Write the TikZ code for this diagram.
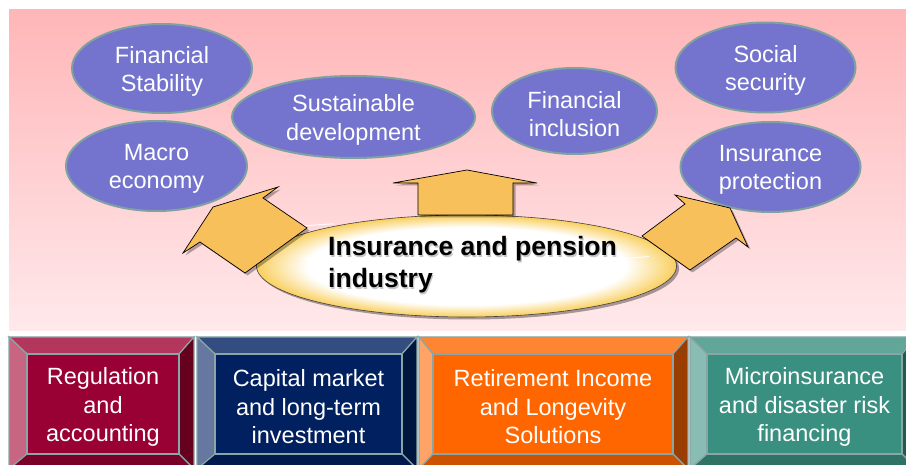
\documentclass[tikz,border=0pt]{standalone}
\usepackage{fontspec}
\setmainfont{Liberation Sans}
\usetikzlibrary{shapes.geometric}
\definecolor{pinktop}{HTML}{FFB6B8}
\definecolor{pinkbot}{HTML}{FFE9EB}
\definecolor{ellblue}{HTML}{7474CE}
\definecolor{ellrim}{HTML}{7FA2A0}
\definecolor{arrowfill}{HTML}{F8C05A}
\definecolor{coreyel}{HTML}{F9CF5E}
\definecolor{edgecol}{HTML}{8AA5A5}
% box 1
\definecolor{regface}{HTML}{990033}
\definecolor{regtop}{HTML}{B3375C}
\definecolor{regleft}{HTML}{C76683}
\definecolor{regright}{HTML}{66001F}
\definecolor{regbot}{HTML}{7A0029}
% box 2
\definecolor{capface}{HTML}{002060}
\definecolor{captop}{HTML}{334D80}
\definecolor{capleft}{HTML}{6678A0}
\definecolor{capright}{HTML}{00163F}
\definecolor{capbot}{HTML}{001A4D}
% box 3
\definecolor{retface}{HTML}{FF6600}
\definecolor{rettop}{HTML}{FF8533}
\definecolor{retleft}{HTML}{FFA366}
\definecolor{retright}{HTML}{993D00}
\definecolor{retbot}{HTML}{CC5200}
% box 4
\definecolor{micface}{HTML}{3A9080}
\definecolor{mictop}{HTML}{61A699}
\definecolor{micleft}{HTML}{89BCB3}
\definecolor{micright}{HTML}{235A50}
\definecolor{micbot}{HTML}{2E7366}
\pgfdeclareradialshading{coreshade}{\pgfpoint{0bp}{0bp}}{color(0bp)=(white); color(19bp)=(white); color(25bp)=(coreyel); color(50bp)=(coreyel)}
\tikzset{
  ell/.style={ellipse, fill=ellblue, draw=ellrim, line width=2pt, inner sep=0pt},
  elltext/.style={text=white, align=center, inner sep=0pt, font=\fontsize{23.5}{28.5}\selectfont},
  boxtext/.style={text=white, align=center, inner sep=0pt, font=\fontsize{23.5}{28.5}\selectfont},
  bevel/.style={draw=edgecol, line width=1.2pt, line join=miter},
  arrowshape/.style={fill=arrowfill, draw=black, line width=0.7pt, line join=miter},
  arrowshadow/.style={fill=black, opacity=0.3},
  coretext/.style={anchor=base west, inner sep=0pt, font=\bfseries\fontsize{26.5}{32}\selectfont}
}
\newcommand\bevelbox[6]{%
  \filldraw[bevel, fill=#4top] (#2,337) -- (#3,337) -- ({#3-15},354) -- ({#2+#5},354) -- cycle;
  \filldraw[bevel, fill=#4left] (#2,337) -- ({#2+#5},354) -- ({#2+#5},454) -- (#2,469) -- cycle;
  \filldraw[bevel, fill=#4right] (#3,337) -- (#3,469) -- ({#3-15},454) -- ({#3-15},354) -- cycle;
  \filldraw[bevel, fill=#4bot] (#2,469) -- ({#2+#5},454) -- ({#3-15},454) -- (#3,469) -- cycle;
  \filldraw[bevel, fill=#4face] ({#2+#5},354) rectangle ({#3-15},454);
  \node[boxtext] (#1) at ({(#2+#5+#3-15)/2},407) {#6};
}
\newcommand\blueell[6]{% name, x, y, width, height, text
  \node[ell, minimum width=#4pt, minimum height=#5pt] (#1) at (#2,#3) {};
  \node[elltext] (#1text) at (#2,#3+3) {#6};
}
\begin{document}
\begin{tikzpicture}[x=1pt,y=-1pt]
\useasboundingbox (0,0) rectangle (906,465);
\clip (0,0) rectangle (906,465);
\fill[white] (0,0) rectangle (906,465);
% pink background
\shade[top color=pinktop, bottom color=pinkbot] (9,10) rectangle (906,331);

% outer ellipses
\blueell{stab}{162}{68.5}{180}{89}{Financial\\Stability}
\blueell{macro}{156.5}{166}{181}{90}{Macro\\economy}
\blueell{sust}{353.5}{117}{243}{82}{Sustainable\\development}
\blueell{incl}{574.5}{111}{165}{86}{Financial\\inclusion}
\blueell{soc}{765.5}{67.5}{180}{90}{Social\\security}
\blueell{prot}{770.5}{167}{180}{90}{Insurance\\protection}

% central ellipse
\fill[black, opacity=0.35] (469,268.5) ellipse [x radius=210pt, y radius=51pt];
\shade[shading=coreshade, draw=black!75, line width=0.6pt] (466.5,266) ellipse [x radius=210pt, y radius=51pt];
\node[draw=none, inner sep=0pt, minimum width=420pt, minimum height=102pt, ellipse] (core) at (466.5,266) {};
% faint white ring
\draw[white, line width=1pt, opacity=0.9] (468,242) ++(226:240pt and 22pt) arc [start angle=226, end angle=319, x radius=240pt, y radius=22pt];
\draw[white, line width=1pt, opacity=0.9] (468,242) ++(124:240pt and 22pt) arc [start angle=124, end angle=142, x radius=240pt, y radius=22pt];

% arrows (shadows first)
\begin{scope}[shift={(2.5,2.5)}]
  \fill[arrowshadow] (183,253) -- (213,207) -- (278,187) -- (263,198) -- (307,228) -- (245,273) -- (200,242) -- cycle;
  \fill[arrowshadow] (467,170) -- (537,183) -- (513,183) -- (513,215) -- (418,215) -- (418,183) -- (393,183) -- cycle;
  \fill[arrowshadow] (675,195) -- (730,208) -- (748,247) -- (736,238) -- (690,270) -- (642,236) -- (685,204) -- cycle;
\end{scope}
\filldraw[arrowshape] (183,253) -- (213,207) -- (278,187) -- (263,198) -- (307,228) -- (245,273) -- (200,242) -- cycle;
\filldraw[arrowshape] (467,170) -- (537,183) -- (513,183) -- (513,215) -- (418,215) -- (418,183) -- (393,183) -- cycle;
\filldraw[arrowshape] (675,195) -- (730,208) -- (748,247) -- (736,238) -- (690,270) -- (642,236) -- (685,204) -- cycle;

% central text
\node[coretext, text=black!22] (coreshadowa) at (329.2,257.2) {Insurance and pension};
\node[coretext, text=black!22] (coreshadowb) at (329.2,289.2) {industry};
\node[coretext] (corea) at (328,256) {Insurance and pension};
\node[coretext] (coreb) at (328,288) {industry};

% bottom bevelled boxes
\bevelbox{reg}{9}{194}{reg}{18}{Regulation\\and\\accounting}
\bevelbox{cap}{197}{417}{cap}{18}{Capital market\\and long-term\\investment}
\bevelbox{ret}{419}{688}{ret}{14}{Retirement Income\\and Longevity\\Solutions}
\bevelbox{mic}{690}{917}{mic}{17}{Microinsurance\\and disaster risk\\financing}
\end{tikzpicture}
\end{document}
